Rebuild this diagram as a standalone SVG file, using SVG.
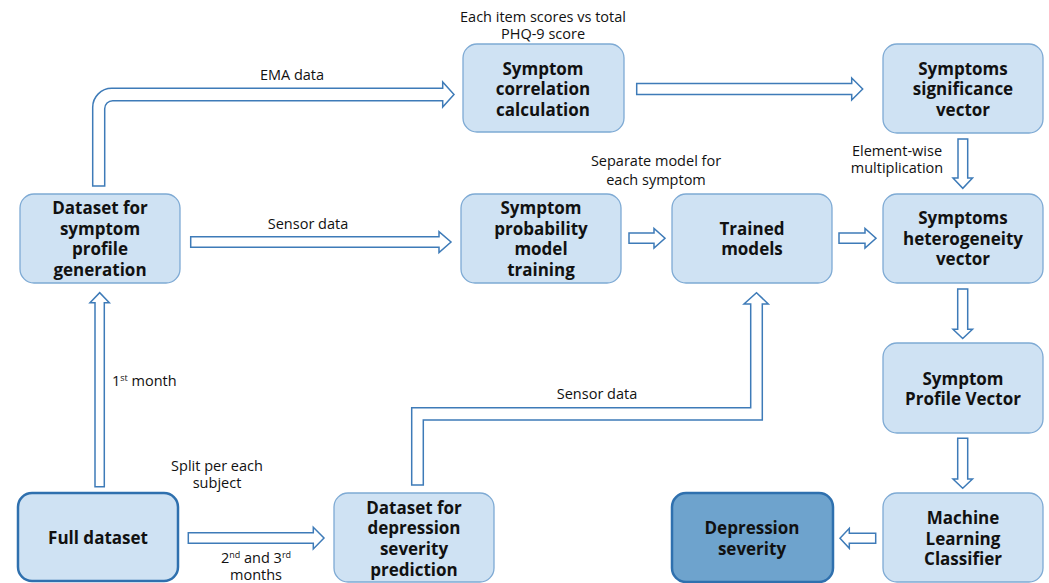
<svg xmlns="http://www.w3.org/2000/svg" width="1049" height="583" viewBox="0 0 1049 583">
<style>
.box{fill:#cfe2f3;stroke:#7eaad4;stroke-width:1.3}
.dark{fill:#cfe2f3;stroke:#2f70ae;stroke-width:2.5}
.result{fill:#6ea3cd;stroke:#2f70ae;stroke-width:2.5}
.t{font-family:"Open Sans","Liberation Sans",sans-serif;font-weight:700;font-size:17px;fill:#111;text-anchor:middle}
.l{font-family:"Open Sans","Liberation Sans",sans-serif;font-size:14.5px;fill:#111;text-anchor:middle}
.ls{font-family:"Open Sans","Liberation Sans",sans-serif;font-size:14.5px;fill:#111;text-anchor:start}
.arr{fill:#fff;stroke:#3e7bb8;stroke-width:1.5;stroke-linejoin:miter}
</style>
<rect width="1049" height="583" fill="#fff"/>
<g id="connectors">
<path class="arr" d="M92.7,186 L92.7,107.3 A19,19 0 0 1 111.7,88.3 L442.7,88.3 L442.7,82 L454,94.5 L442.7,107 L442.7,100.7 L112.7,100.7 A8,8 0 0 0 104.7,108.7 L104.7,186 Z"/>
<path class="arr" d="M636.7,83.5 H851.7 V78 L862.7,89 L851.7,100 V94.5 H636.7 Z"/>
<path class="arr" d="M958,139 V178 H953 L962.8,188.3 L972.5,178 H967.7 V139 Z"/>
<path class="arr" d="M190.7,236.7 H439 V231.7 L451,242 L439,252.5 V247.3 H190.7 Z"/>
<path class="arr" d="M629,233 H654 V228.5 L665,238.2 L654,248 V243.3 H629 Z"/>
<path class="arr" d="M839,233 H865 V228.5 L876,238.2 L865,248 V243.3 H839 Z"/>
<path class="arr" d="M957.7,289 V329.3 H953 L962.7,338.5 L972.5,329.3 H967.7 V289 Z"/>
<path class="arr" d="M957.7,438.3 V479 H953 L962.7,488.3 L972.5,479 H967.7 V438.3 Z"/>
<path class="arr" d="M875.7,533.3 H849.3 V528.3 L840,538.3 L849.3,548.3 V543.3 H875.7 Z"/>
<path class="arr" d="M188.3,532.7 H313.3 V527.3 L324,538 L313.3,549 V543.3 H188.3 Z"/>
<path class="arr" d="M95,486.7 V302.7 H90 L99.7,292.7 L109.3,302.7 H104.3 V486.7 Z"/>
<path class="arr" d="M411.7,485 V407.7 H750.7 V304 H744 L756.5,292.7 L768.3,304 H762.3 V420 H423.3 V485 Z"/>
<text class="l" x="292" y="80">EMA data</text>
<text class="l" x="543" y="22">Each item scores vs total</text>
<text class="l" x="543" y="39">PHQ-9 score</text>
<text class="l" x="656" y="166">Separate model for</text>
<text class="l" x="656" y="185">each symptom</text>
<text class="l" x="897" y="156">Element-wise</text>
<text class="l" x="897" y="173">multiplication</text>
<text class="l" x="308" y="229">Sensor data</text>
<text class="l" x="597" y="399">Sensor data</text>
<text class="ls" x="112" y="386">1<tspan font-size="9" dy="-5">st</tspan><tspan dy="5"> month</tspan></text>
<text class="l" x="217" y="471">Split per each</text>
<text class="l" x="217" y="488">subject</text>
<text class="l" x="256" y="563">2<tspan font-size="9" dy="-5">nd</tspan><tspan dy="5"> and 3</tspan><tspan font-size="9" dy="-5">rd</tspan></text>
<text class="l" x="256" y="580">months</text>
</g>
<g id="dataset-profile">
<rect class="box" x="20" y="194" width="160" height="89" rx="14"/>
<text class="t" x="100" y="214">Dataset for</text>
<text class="t" x="100" y="235">symptom</text>
<text class="t" x="100" y="255">profile</text>
<text class="t" x="100" y="276">generation</text>
</g>
<g id="full-dataset">
<rect class="dark" x="18" y="493" width="160" height="88" rx="14"/>
<text class="t" x="98" y="544">Full dataset</text>
</g>
<g id="dataset-depression">
<rect class="box" x="334" y="493" width="160" height="89" rx="14"/>
<text class="t" x="414" y="514">Dataset for</text>
<text class="t" x="414" y="534">depression</text>
<text class="t" x="414" y="555">severity</text>
<text class="t" x="414" y="576">prediction</text>
</g>
<g id="correlation">
<rect class="box" x="463" y="44" width="161" height="88" rx="14"/>
<text class="t" x="543" y="75">Symptom</text>
<text class="t" x="543" y="95">correlation</text>
<text class="t" x="543" y="116">calculation</text>
</g>
<g id="significance">
<rect class="box" x="883" y="44" width="160" height="89" rx="14"/>
<text class="t" x="963" y="75">Symptoms</text>
<text class="t" x="963" y="95">significance</text>
<text class="t" x="963" y="116">vector</text>
</g>
<g id="training">
<rect class="box" x="461" y="194" width="160" height="89" rx="14"/>
<text class="t" x="541" y="214">Symptom</text>
<text class="t" x="541" y="235">probability</text>
<text class="t" x="541" y="255">model</text>
<text class="t" x="541" y="276">training</text>
</g>
<g id="trained">
<rect class="box" x="672" y="194" width="160" height="89" rx="14"/>
<text class="t" x="752" y="235">Trained</text>
<text class="t" x="752" y="255">models</text>
</g>
<g id="heterogeneity">
<rect class="box" x="883" y="194" width="160" height="89" rx="14"/>
<text class="t" x="963" y="224">Symptoms</text>
<text class="t" x="963" y="245">heterogeneity</text>
<text class="t" x="963" y="265">vector</text>
</g>
<g id="profile-vector">
<rect class="box" x="883" y="343" width="160" height="90" rx="14"/>
<text class="t" x="963" y="385">Symptom</text>
<text class="t" x="963" y="405">Profile Vector</text>
</g>
<g id="classifier">
<rect class="box" x="883" y="493" width="160" height="89" rx="14"/>
<text class="t" x="963" y="524">Machine</text>
<text class="t" x="963" y="545">Learning</text>
<text class="t" x="963" y="565">Classifier</text>
</g>
<g id="depression-severity">
<rect class="result" x="672" y="493" width="161" height="89" rx="14"/>
<text class="t" x="752" y="534">Depression</text>
<text class="t" x="752" y="555">severity</text>
</g>
</svg>
